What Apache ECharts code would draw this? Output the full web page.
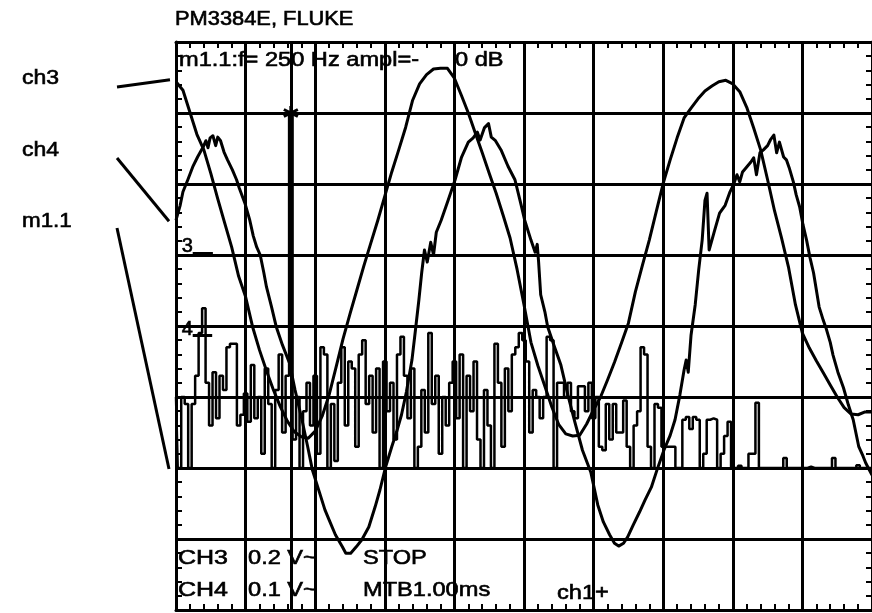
<!DOCTYPE html>
<html>
<head>
<meta charset="utf-8">
<script src="https://cdn.jsdelivr.net/npm/echarts@6/dist/echarts.min.js"></script>
<style>
  html, body { margin: 0; padding: 0; background: #fff; }
  #main { width: 872px; height: 613px; }
</style>
</head>
<body>
<div id="main"></div>
<script>
// Scope screen: 10 horizontal divisions at MTB 1.00 ms/div, 8 vertical divisions.
// Levels are in divisions counted from the bottom edge of the screen.
const screenDivsX = 10;
const screenDivsY = 8;

// ch3 (0.2 V/div), sampled every 0.1 ms
const ch3Step = 0.1;
const ch3Level = [
  7.44, 7.32, 7.01, 6.70, 6.48, 6.15, 5.79, 5.45, 5.11, 4.70,
  4.41, 3.99, 3.66, 3.37, 3.10, 2.86, 2.66, 2.51, 2.44, 2.42,
  2.52, 2.73, 3.03, 3.42, 3.82, 4.17, 4.51, 4.85, 5.17, 5.49,
  5.83, 6.17, 6.48, 6.80, 7.18, 7.41, 7.54, 7.62, 7.63, 7.63,
  7.49, 7.25, 7.00, 6.72, 6.44, 6.15, 5.87, 5.56, 5.24, 4.80,
  4.30, 3.77, 3.44, 3.15, 2.86, 2.61, 2.48, 2.45, 2.46, 2.62,
  2.82, 3.00, 3.24, 3.49, 3.76, 4.04, 4.48, 4.85, 5.21, 5.61,
  6.01, 6.34, 6.65, 6.93, 7.07, 7.20, 7.31, 7.38, 7.44, 7.46,
  7.41, 7.30, 7.08, 6.79, 6.48, 6.06, 5.62, 5.24, 4.83, 4.30,
  3.90, 3.69, 3.51, 3.34, 3.17, 3.00, 2.85, 2.76, 2.75, 2.79,
  2.79
];

// ch4 (0.1 V/div): [time ms, level div]
const ch4Samples = [
  [0.00,5.49],[0.06,5.70],[0.10,5.89],[0.17,6.06],[0.24,6.24],[0.31,6.38],[0.39,6.52],[0.43,6.61],
  [0.46,6.51],[0.49,6.65],[0.53,6.68],[0.57,6.54],[0.60,6.66],[0.64,6.61],[0.69,6.45],[0.74,6.34],
  [0.81,6.20],[0.87,6.06],[0.91,5.94],[0.99,5.73],[1.06,5.49],[1.11,5.27],[1.16,5.11],[1.21,5.00],
  [1.26,4.76],[1.30,4.55],[1.37,4.28],[1.44,3.99],[1.53,3.73],[1.63,3.48],[1.71,3.10],[1.81,2.68],
  [1.89,2.31],[1.96,1.97],[2.06,1.66],[2.14,1.41],[2.20,1.27],[2.29,1.06],[2.39,0.89],[2.44,0.80],
  [2.51,0.80],[2.59,0.89],[2.67,0.99],[2.77,1.17],[2.86,1.45],[2.93,1.69],[3.01,2.01],[3.10,2.30],
  [3.17,2.51],[3.24,2.75],[3.31,3.07],[3.39,3.52],[3.44,3.94],[3.49,4.37],[3.53,4.75],[3.57,5.07],
  [3.61,4.90],[3.66,5.18],[3.70,5.00],[3.74,5.32],[3.81,5.49],[3.91,5.77],[4.01,6.06],[4.10,6.37],
  [4.20,6.59],[4.27,6.65],[4.33,6.73],[4.37,6.62],[4.43,6.79],[4.49,6.85],[4.53,6.66],[4.59,6.61],
  [4.67,6.48],[4.77,6.25],[4.87,6.06],[4.96,5.70],[5.01,5.49],[5.10,5.21],[5.16,5.04],[5.19,5.15],
  [5.21,4.90],[5.24,4.44],[5.30,4.20],[5.34,3.99],[5.43,3.73],[5.53,3.45],[5.63,3.03],[5.73,2.65],
  [5.84,2.25],[5.96,1.94],[6.06,1.48],[6.14,1.24],[6.23,1.06],[6.30,0.94],[6.36,0.90],[6.43,0.94],
  [6.49,1.03],[6.57,1.20],[6.66,1.38],[6.74,1.55],[6.83,1.73],[6.91,1.97],[7.01,2.25],[7.10,2.46],
  [7.17,2.68],[7.24,3.03],[7.30,3.38],[7.33,3.52],[7.36,3.35],[7.40,3.87],[7.46,4.30],[7.51,4.79],
  [7.56,5.21],[7.60,5.77],[7.63,5.87],[7.66,5.07],[7.70,5.21],[7.74,5.35],[7.81,5.59],[7.89,5.70],
  [7.96,5.89],[8.01,5.99],[8.06,6.13],[8.10,6.03],[8.14,6.17],[8.20,6.24],[8.26,6.31],[8.30,6.37],
  [8.34,6.13],[8.39,6.44],[8.44,6.48],[8.50,6.54],[8.54,6.62],[8.59,6.69],[8.63,6.44],[8.67,6.59],
  [8.73,6.38],[8.77,6.34],[8.81,6.23],[8.87,6.03],[8.91,5.85],[8.96,5.68],[9.01,5.42],[9.06,5.21],
  [9.11,4.96],[9.16,4.75],[9.20,4.51],[9.24,4.27],[9.30,4.08],[9.34,3.97],[9.40,3.77],[9.44,3.59],
  [9.51,3.35],[9.59,3.13],[9.66,2.89],[9.73,2.68],[9.77,2.49],[9.81,2.30],[9.87,2.17],[9.91,2.07],
  [10.0,1.90]
];

// m1.1 spectrum trace, one point per 0.05 div; floor of the display at 2 div
const specStep = 0.05;
const specFloor = 2.0;
const specLevel = [
  3.0, 2.0, 3.0, 2.9, 2.0, 2.9, 3.3, 3.9, 4.25, 3.2,
  2.6, 3.35, 2.7, 3.3, 3.1, 3.7, 3.75, 3.75, 2.6, 2.75,
  3.05, 2.65, 3.45, 2.7, 3.0, 2.2, 3.4, 2.9, 2.0, 3.1,
  3.6, 2.5, 3.3, 7.0, 2.4, 3.0, 2.0, 2.8, 3.2, 2.6,
  3.3, 2.2, 3.7, 3.6, 2.0, 2.9, 2.1, 3.2, 3.7, 2.6,
  3.5, 3.4, 2.3, 3.6, 3.8, 2.9, 3.3, 2.5, 3.4, 2.0,
  3.5, 2.8, 3.2, 2.4, 3.6, 3.85, 3.3, 2.7, 3.4, 2.0,
  2.3, 3.1, 2.5, 3.9, 2.9, 3.3, 2.2, 3.0, 2.6, 3.2,
  3.5, 2.7, 3.6, 2.0, 3.3, 2.8, 3.5, 2.4, 2.0, 3.1,
  2.6, 2.0, 3.75, 3.2, 2.3, 3.4, 2.8, 3.6, 3.7, 3.9,
  3.8, 3.5, 2.5, 3.1, 3.0, 2.7, 3.0, 3.85, 3.8, 2.0,
  3.2, 3.2, 3.0, 3.2, 2.8, 2.7, 3.15, 3.15, 2.8, 3.2,
  2.7, 3.0, 2.3, 2.25, 2.9, 2.4, 2.9, 2.5, 2.5, 2.95,
  2.3, 2.0, 2.6, 2.8, 3.7, 3.6, 2.3, 2.0, 2.9, 2.85,
  2.3, 2.3, 2.3, 2.3, 2.0, 2.0, 2.68, 2.72, 2.55, 2.72,
  2.68, 2.0, 2.2, 2.68, 2.7, 2.68, 2.0, 2.2, 2.45, 2.65,
  2.0, 2.0, 2.03, 2.0, 2.0, 2.2, 2.2, 2.92, 2.0, 2.0,
  2.0, 2.0, 2.0, 2.0, 2.0, 2.14, 2.0, 2.0, 2.0, 2.0,
  2.0, 2.0, 2.02, 2.0, 2.0, 2.0, 2.0, 2.0, 2.0, 2.14,
  2.0, 2.0, 2.0, 2.0, 2.0, 2.0, 2.04, 2.0, 2.0, 2.0,
  2.0
];

// m1.1 marker sits on the 250 Hz line of the spectrum
const markerIndex = 33;

// Channel ground references (divisions) with their on-screen tags
const channelRefs = [
  { tag: '3', level: 5.03, from: 0.24, to: 0.53 },
  { tag: '4', level: 3.87, from: 0.24, to: 0.52 }
];

// Texts
const titleText = 'PM3384E, FLUKE';
const traceNames = ['ch3', 'ch4', 'm1.1'];
const markerReadout = ['m1.1:f= 250 Hz ampl=-', '0 dB'];
const statusRow1 = ['CH3', '0.2 V~', 'STOP'];
const statusRow2 = ['CH4', '0.1 V~', 'MTB1.00ms'];
const triggerText = 'ch1+';

const INK = '#000';
const FONT = '"Liberation Sans", Arial, Helvetica, sans-serif';

const chart = echarts.init(document.getElementById('main'), null, { renderer: 'canvas' });

function screenAxis(max, position, withGrid) {
  return {
    type: 'value', min: 0, max: max, interval: 1, position: position,
    axisLabel: { show: false },
    axisLine: { show: true, onZero: false, lineStyle: { color: INK, width: 3 } },
    axisTick: { show: true, inside: true, length: 6, lineStyle: { color: INK, width: 2 } },
    minorTick: { show: true, splitNumber: 5, length: 6, lineStyle: { color: INK, width: 2 } },
    splitLine: { show: withGrid, lineStyle: { color: INK, width: 3 } },
    minorSplitLine: { show: false }
  };
}

const markerTime = markerIndex * specStep;
const markerLevel = specLevel[markerIndex];

const refLines = channelRefs.map(r => [
  { coord: [r.from, r.level] }, { coord: [r.to, r.level] }
]);

chart.setOption({
  animation: false,
  backgroundColor: '#fff',
  grid: { left: 176, top: 42, width: 700, height: 568, show: false },
  xAxis: [screenAxis(screenDivsX, 'bottom', true), screenAxis(screenDivsX, 'top', false)],
  yAxis: [screenAxis(screenDivsY, 'left', true), screenAxis(screenDivsY, 'right', false)],
  series: [
    {
      name: 'm1.1', type: 'line', symbol: 'none', z: 3, step: 'middle',
      data: specLevel.map((v, i) => [i * specStep, v]),
      lineStyle: { color: INK, width: 2.5 },
      markLine: {
        silent: true, animation: false, symbol: ['none', 'none'],
        label: { show: false },
        lineStyle: { color: INK, width: 3, type: 'solid' },
        emphasis: { disabled: true },
        data: [{ xAxis: markerTime }].concat(refLines)
      }
    },
    {
      name: 'ch3', type: 'line', symbol: 'none', z: 4,
      data: ch3Level.map((v, i) => [i * ch3Step, v]),
      lineStyle: { color: INK, width: 3, join: 'round' }
    },
    {
      name: 'ch4', type: 'line', symbol: 'none', z: 4,
      data: ch4Samples,
      lineStyle: { color: INK, width: 3, join: 'round' }
    },
    {
      name: 'marker', type: 'scatter', z: 6, silent: true,
      data: [[markerTime, markerLevel]],
      symbol: 'path://M5,0L5,10M0.7,2.5L9.3,7.5M0.7,7.5L9.3,2.5',
      symbolSize: 14,
      itemStyle: { color: 'rgba(0,0,0,0)', borderColor: INK, borderWidth: 3, opacity: 1 }
    }
  ]
});

// Text overlays and the name tags with their leader lines
function txt(text, x, y, size, sx) {
  return {
    type: 'text', x: x, y: y, scaleX: sx, z: 100, silent: true,
    style: {
      text: text, x: 0, y: 0, fill: INK, stroke: INK, lineWidth: 0.6,
      font: size + 'px ' + FONT,
      align: 'left', textAlign: 'left',
      verticalAlign: 'middle', textVerticalAlign: 'middle'
    }
  };
}
function seg(a, b) {
  return {
    type: 'line', z: 100, silent: true,
    shape: { x1: a[0], y1: a[1], x2: b[0], y2: b[1] },
    style: { stroke: INK, lineWidth: 3 }
  };
}
const toPx = (t, v) => chart.convertToPixel({ seriesIndex: 1 }, [t, v]);

const ch3Start = toPx(0, ch3Level[0]);
const ch4Start = toPx(ch4Samples[0][0], ch4Samples[0][1]);
const specStart = toPx(0, specFloor);

const SX = 1.18;
const elements = [
  txt(titleText, 175, 20, 19.5, 1.12),
  txt(traceNames[0], 22, 78, 20, 1.15),
  txt(traceNames[1], 22, 150, 20, 1.15),
  txt(traceNames[2], 22, 221, 20, 1.12),
  seg([117, 87], [ch3Start[0] - 6, ch3Start[1] - 2]),
  seg([117, 158], [ch4Start[0] - 7, ch4Start[1] + 1]),
  seg([117, 228], [specStart[0] - 7, specStart[1] + 1]),
  txt(markerReadout[0], 179, 60, 20, SX),
  txt(markerReadout[1], 455, 60, 20, SX),
  txt(statusRow1[0], 178, 558, 20, 1.25),
  txt(statusRow1[1], 248, 558, 20, SX),
  txt(statusRow1[2], 363, 558, 20, SX),
  txt(statusRow2[0], 178, 590, 20, 1.25),
  txt(statusRow2[1], 248, 590, 20, SX),
  txt(statusRow2[2], 363, 590, 20, SX),
  txt(triggerText, 557, 593, 20, SX)
];
channelRefs.forEach(r => {
  const p = toPx(r.from, r.level);
  elements.push(txt(r.tag, p[0] - 11, p[1] - 6, 20, 1.0));
});

chart.setOption({ graphic: { elements: elements } });
</script>
</body>
</html>
